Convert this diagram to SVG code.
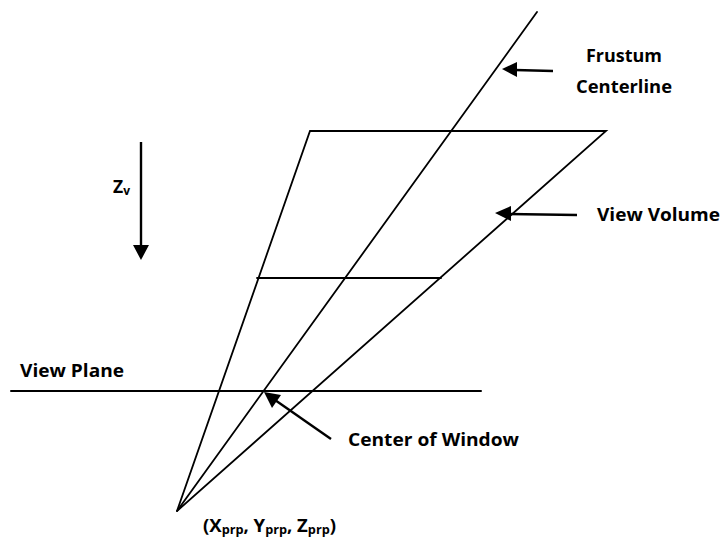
<svg xmlns="http://www.w3.org/2000/svg" width="723" height="537" viewBox="0 0 723 537">
<style>
.l{stroke:#000;stroke-width:1.8;fill:none;stroke-linecap:round}
.a{stroke:#000;stroke-width:2.4;fill:none}
.h{fill:#000;stroke:none}
text{font-family:"Open Sans","Liberation Sans",sans-serif;font-weight:700;font-size:17.5px;fill:#000}
.s{font-size:12px}
</style>
<rect width="723" height="537" fill="#fff"/>
<g id="connectors">
<path class="l" d="M177 511L310 131H606L177 511"/>
<path class="l" d="M177 511L537 12"/>
<path class="l" d="M257 278H441"/>
<path class="l" d="M11 391H481" style="stroke-width:2"/>
<path class="a" d="M553 71L515 70"/><polygon class="h" points="502,69 517,62 517,77"/>
<path class="a" d="M577 215L508 214"/><polygon class="h" points="495,213 511,206 511,221"/>
<path class="a" d="M331 439L275 400"/><polygon class="h" points="264,392 281,395 272,408"/>
<path class="a" d="M141 142V246"/><polygon class="h" points="133,245 149,245 141,260"/>
</g>
<g id="label-frustum"><text x="586" y="62" textLength="76" lengthAdjust="spacingAndGlyphs">Frustum</text><text x="576" y="93" textLength="96" lengthAdjust="spacingAndGlyphs">Centerline</text></g>
<g id="label-volume"><text x="597" y="221" textLength="123" lengthAdjust="spacingAndGlyphs">View Volume</text></g>
<g id="label-zv"><text x="113" y="193" font-size="18">Z<tspan class="s" dy="2">v</tspan></text></g>
<g id="label-plane"><text x="20" y="377" textLength="104" lengthAdjust="spacingAndGlyphs">View Plane</text></g>
<g id="label-window"><text x="348" y="446" textLength="171" lengthAdjust="spacingAndGlyphs">Center of Window</text></g>
<g id="label-prp"><text x="203" y="532" textLength="133" lengthAdjust="spacingAndGlyphs">(X<tspan class="s" dy="2">prp</tspan><tspan dy="-2">, Y</tspan><tspan class="s" dy="2">prp</tspan><tspan dy="-2">, Z</tspan><tspan class="s" dy="2">prp</tspan><tspan dy="-2">)</tspan></text></g>
</svg>
